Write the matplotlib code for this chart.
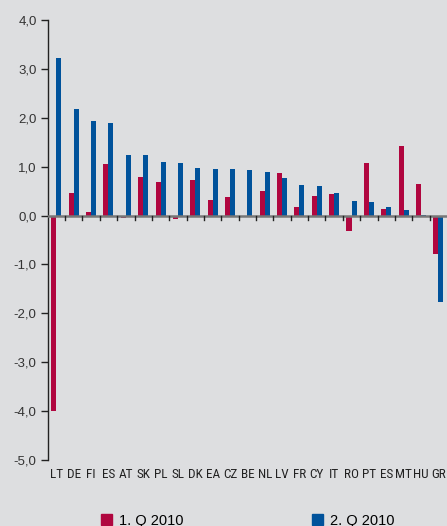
import matplotlib.pyplot as plt
from matplotlib.patches import Patch
import numpy as np

# countries and quarterly values
countries = ["LT", "DE", "FI", "ES", "AT", "SK", "PL", "SL", "DK", "EA", "CZ", "BE",
             "NL", "LV", "FR", "CY", "IT", "RO", "PT", "ES", "MT", "HU", "GR"]
q1_2010 = [-4.00, 0.47, 0.08, 1.06, -0.05, 0.79, 0.69, -0.07, 0.73, 0.32, 0.38, 0.00,
           0.50, 0.87, 0.18, 0.40, 0.44, -0.31, 1.08, 0.14, 1.43, 0.65, -0.78]
q2_2010 = [3.22, 2.18, 1.94, 1.90, 1.24, 1.24, 1.10, 1.08, 0.98, 0.96, 0.96, 0.93,
           0.89, 0.77, 0.63, 0.61, 0.46, 0.30, 0.28, 0.18, 0.12, 0.02, -1.76]
series_labels = ["1. Q 2010", "2. Q 2010"]
yticks = [4, 3, 2, 1, 0, -1, -2, -3, -4, -5]

RED = "#b0063f"
BLUE = "#00529b"
BG = "#dddee0"

fig = plt.figure(figsize=(4.47, 5.26), dpi=100, facecolor=BG)
ax = fig.add_axes([0.1067, 0.1255, 0.8933, 0.8365], facecolor=BG)

x = np.arange(len(countries))
w = 0.29
ax.bar(x - w / 2, q1_2010, w, color=RED, zorder=2)
ax.bar(x + w / 2, q2_2010, w, color=BLUE, zorder=2)

ax.set_xlim(-0.5, len(countries) - 0.5)
ax.set_ylim(-5, 4)

# zero line with small separators between the categories
ax.axhline(0, color="#777777", lw=1.8, zorder=3)
for b in np.arange(0.5, len(countries) - 0.5, 1.0):
    ax.plot([b, b], [0, -0.1], color="#222222", lw=1, zorder=3, clip_on=False)

for s in ["top", "right", "bottom"]:
    ax.spines[s].set_visible(False)
ax.spines["left"].set_color("#222222")
ax.spines["left"].set_linewidth(1.0)

ax.set_yticks(yticks)
ax.set_yticklabels([("%.1f" % v).replace(".", ",") for v in yticks],
                   fontsize=9.5, color="#333333", family=["Liberation Sans", "DejaVu Sans"])
ax.tick_params(axis="y", length=5, width=1, color="#222222", pad=3)

ax.set_xticks(x)
ax.set_xticklabels(countries, fontsize=9.5, color="#222222",
                   family=["Roboto Condensed", "DejaVu Sans"])
ax.tick_params(axis="x", length=0, pad=6)

handles = [Patch(color=RED), Patch(color=BLUE)]
fig.legend(handles, series_labels, loc="lower left", bbox_to_anchor=(0.197, -0.028),
           ncol=2, frameon=False, columnspacing=8.8, handlelength=0.75,
           handleheight=0.75, handletextpad=0.5,
           prop={"family": ["Liberation Sans", "DejaVu Sans"], "size": 10.5})

fig.savefig("out.png", dpi=100, facecolor=BG)
